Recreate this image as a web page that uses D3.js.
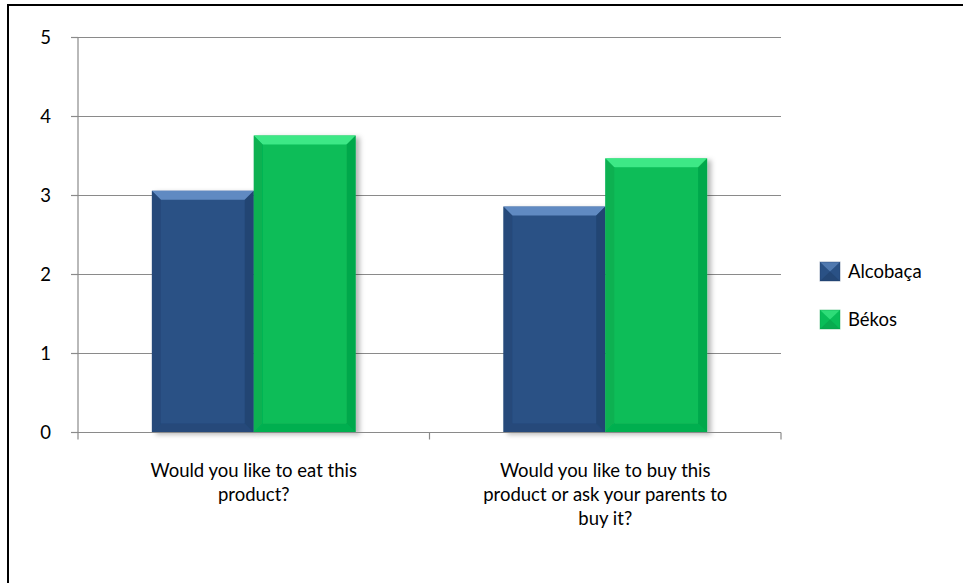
<!DOCTYPE html>
<html>
<head>
<meta charset="utf-8">
<script src="https://cdn.jsdelivr.net/npm/d3@7"></script>
<style>
  html, body { margin: 0; padding: 0; background: #fff; }
  svg { display: block; font-family: Lato, "Open Sans", sans-serif; }
</style>
</head>
<body>
<svg id="chart" width="963" height="583"></svg>
<script>
// Survey answers: mean score per question, per school
const categories = [
  ["Would you like to eat this", "product?"],
  ["Would you like to buy this", "product or ask your parents to", "buy it?"]
];
const categoryKeys = ["eat", "buy"];
const series = ["Alcobaça", "Békos"];
const alcobacaValues = [3.06, 2.86];
const bekosValues = [3.76, 3.47];
const yTicks = [0, 1, 2, 3, 4, 5];

const colors = {
  "Alcobaça": { base: "#2a5185", light: "#6a94cc", dark: "#1d3d68" },
  "Békos":    { base: "#08bd58", light: "#48f08e", dark: "#059a45" }
};

const data = categoryKeys.map((k, i) => ({
  key: k,
  label: categories[i],
  values: [
    { s: series[0], v: alcobacaValues[i] },
    { s: series[1], v: bekosValues[i] }
  ]
}));

const svg = d3.select("#chart");
const plot = { left: 78, right: 781, top: 37.5, bottom: 432.5 };
const fontSize = 18.5;

// Chart frame
svg.append("rect")
  .attr("x", 8).attr("y", 5)
  .attr("width", 1000).attr("height", 700)
  .attr("fill", "#fff").attr("stroke", "#000").attr("stroke-width", 2);

const defs = svg.append("defs");
const shadow = defs.append("filter").attr("id", "shadow")
  .attr("x", "-20%").attr("y", "-20%").attr("width", "150%").attr("height", "140%");
shadow.append("feDropShadow")
  .attr("dx", 4).attr("dy", 2).attr("stdDeviation", 2.5)
  .attr("flood-color", "#000").attr("flood-opacity", 0.28);

const y = d3.scaleLinear().domain([0, 5]).range([plot.bottom, plot.top]);
const x0 = d3.scaleBand().domain(categoryKeys).range([plot.left, plot.right]);
const x1 = d3.scaleBand().domain(series).range([0, x0.bandwidth()])
  .paddingInner(0).paddingOuter(0.725);

// Gridlines
svg.append("g").selectAll("line").data(yTicks.filter(t => t > 0)).join("line")
  .attr("x1", plot.left).attr("x2", plot.right)
  .attr("y1", d => y(d)).attr("y2", d => y(d))
  .attr("stroke", "#8a8a8a").attr("stroke-width", 1.2);

// Bars with bevelled edges
const groups = svg.append("g").selectAll("g").data(data).join("g")
  .attr("transform", d => `translate(${x0(d.key)},0)`);

function bevelBar(g, x, yTop, w, h, c, b) {
  const bar = g.append("g").attr("filter", "url(#shadow)");
  bar.append("rect").attr("x", x).attr("y", yTop).attr("width", w).attr("height", h).attr("fill", c.base);
  const bb = Math.min(b, h / 2);
  // top face
  bar.append("path")
    .attr("d", `M${x},${yTop}L${x + w},${yTop}L${x + w - bb},${yTop + bb}L${x + bb},${yTop + bb}Z`)
    .attr("fill", c.light).attr("opacity", 0.85);
  // left face
  bar.append("path")
    .attr("d", `M${x},${yTop}L${x + bb},${yTop + bb}L${x + bb},${yTop + h - bb}L${x},${yTop + h}Z`)
    .attr("fill", c.dark).attr("opacity", 0.35);
  // right face
  bar.append("path")
    .attr("d", `M${x + w},${yTop}L${x + w - bb},${yTop + bb}L${x + w - bb},${yTop + h - bb}L${x + w},${yTop + h}Z`)
    .attr("fill", c.dark).attr("opacity", 0.6);
  // bottom face
  bar.append("path")
    .attr("d", `M${x},${yTop + h}L${x + bb},${yTop + h - bb}L${x + w - bb},${yTop + h - bb}L${x + w},${yTop + h}Z`)
    .attr("fill", c.dark).attr("opacity", 0.4);
}

groups.each(function(d) {
  const g = d3.select(this);
  d.values.forEach(p => {
    bevelBar(g, x1(p.s), y(p.v), x1.bandwidth(), y(0) - y(p.v), colors[p.s], 9);
  });
});

// Axes
const yAxis = svg.append("g");
yAxis.append("line")
  .attr("x1", plot.left).attr("x2", plot.left)
  .attr("y1", plot.top).attr("y2", plot.bottom)
  .attr("stroke", "#8a8a8a").attr("stroke-width", 1.2);
yAxis.selectAll("line.tick").data(yTicks).join("line").attr("class", "tick")
  .attr("x1", plot.left - 7).attr("x2", plot.left)
  .attr("y1", d => y(d)).attr("y2", d => y(d))
  .attr("stroke", "#8a8a8a").attr("stroke-width", 1.2);
yAxis.selectAll("text").data(yTicks).join("text")
  .attr("x", 51).attr("y", d => y(d)).attr("dy", "0.35em")
  .attr("text-anchor", "end").attr("font-size", fontSize).attr("fill", "#000")
  .text(d => d);

const xAxis = svg.append("g");
xAxis.append("line")
  .attr("x1", plot.left - 7).attr("x2", plot.right)
  .attr("y1", plot.bottom).attr("y2", plot.bottom)
  .attr("stroke", "#8a8a8a").attr("stroke-width", 1.2);
const boundaries = categoryKeys.map(k => x0(k)).concat([plot.right]);
xAxis.selectAll("line.tick").data(boundaries).join("line").attr("class", "tick")
  .attr("x1", d => d).attr("x2", d => d)
  .attr("y1", plot.bottom).attr("y2", plot.bottom + 7)
  .attr("stroke", "#8a8a8a").attr("stroke-width", 1.2);

xAxis.selectAll("text.cat").data(data).join("text").attr("class", "cat")
  .attr("text-anchor", "middle").attr("font-size", fontSize).attr("fill", "#000")
  .each(function(d) {
    const t = d3.select(this);
    d.label.forEach((line, i) => {
      t.append("tspan")
        .attr("x", x0(d.key) + x0.bandwidth() / 2)
        .attr("y", 477 + i * 24)
        .text(line);
    });
  });

// Legend
const legend = svg.append("g").selectAll("g").data(series).join("g")
  .attr("transform", (d, i) => `translate(820, ${262 + i * 48})`);
legend.each(function(s) {
  const g = d3.select(this);
  const c = colors[s];
  const sz = 20;
  g.append("rect").attr("width", sz).attr("height", 19).attr("fill", c.base);
  g.append("path").attr("d", `M0,0L${sz},0L${sz / 2},9.5Z`).attr("fill", c.light).attr("opacity", 0.6);
  g.append("path").attr("d", `M0,19L${sz},19L${sz / 2},9.5Z`).attr("fill", c.dark).attr("opacity", 0.5);
  g.append("rect").attr("width", sz).attr("height", 19).attr("fill", "none")
    .attr("stroke", c.dark).attr("stroke-opacity", 0.4);
});
legend.append("text")
  .attr("x", 28).attr("y", 10).attr("dy", "0.35em")
  .attr("font-size", fontSize).attr("fill", "#000")
  .text(d => d);
</script>
</body>
</html>
